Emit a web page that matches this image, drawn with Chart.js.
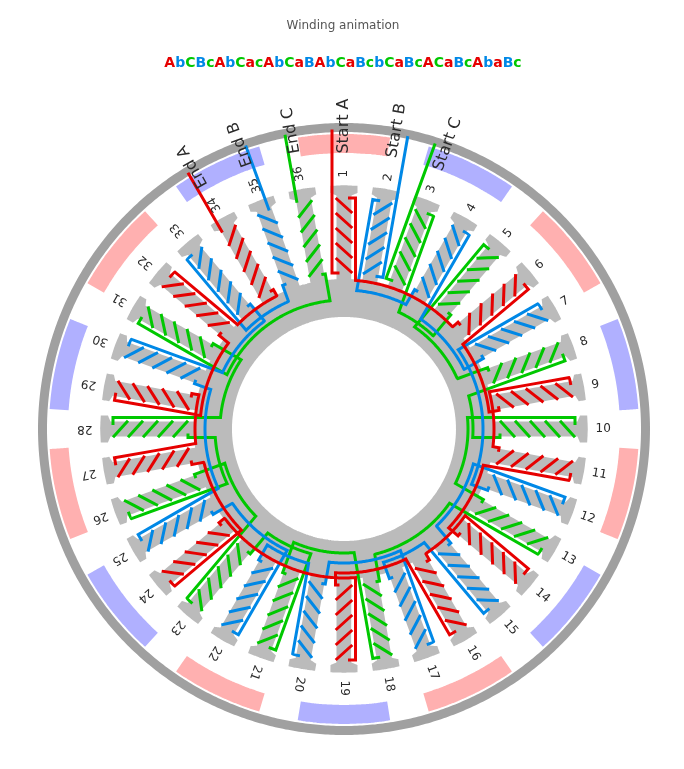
<!DOCTYPE html>
<html><head><meta charset="utf-8">
<style>html,body{margin:0;padding:0;background:#fff;overflow:hidden;width:684px;height:769px}canvas{display:block}</style>
<script src="https://cdn.jsdelivr.net/npm/chart.js@4"></script>
</head><body><canvas id="c" width="686" height="769" style="width:686px;height:769px"></canvas>
<script>
const titleText = 'Winding animation';
const windingOrder = 'AbCBcAbCacAbCaBAbCaBcbCaBcACaBcAbaBc';
const toothLabels = ['1','2','3','4','5','6','7','8','9','10','11','12','13','14','15','16','17','18','19','20','21','22','23','24','25','26','27','28','29','30','31','32','33','34','35','36'];
const leadLabels = ['Start A','Start B','Start C','End A','End B','End C'];
const leadTeeth = [1,2,3,34,35,36];
const poleAngles = [0,25.7,51.4,77.1,102.9,128.6,154.3,180,205.7,231.4,257.1,282.9,308.6,334.3];
const poleKinds = ['N','S','N','S','N','S','N','S','N','S','N','S','N','S'];
const redArcs = [149,146,150,144,149,144,149,144,149,144,149];
const blueArcs = [139,134,139,134,139,134,139,134,139,134,139];
const greenArcs = [129,124,129,124,129,124,129,124,129,124,129];
const stripeRadii = [156,171,186,201,216];
const endOffsets = {A:7,B:4.5,C:7};

const COL = {A:'#e60000',B:'#0088e6',C:'#00c800',N:'#ffb0b0',S:'#b0b0ff',steel:'#bbbbbb',rim:'#a0a0a0'};
const CX=344, CY=429, W=686, H=769, TOP=71.4;
const rad=d=>d*Math.PI/180;
const toothAngle=t=>(t-1)*10;
const pt=(th,u,v)=>({x:u*Math.sin(rad(th))+v*Math.cos(rad(th)),y:u*Math.cos(rad(th))-v*Math.sin(rad(th))});
const gap={x:NaN,y:NaN};
function arc(r,a,b,step=1){const o=[];const n=Math.max(1,Math.ceil(Math.abs(b-a)/step));for(let i=0;i<=n;i++){o.push(pt(a+(b-a)*i/n,r,0));}return o;}

function phasePath(ph,arcs){
  const teeth=[];
  [...windingOrder].forEach((ch,i)=>{if(ch.toUpperCase()===ph)teeth.push({t:i+1,s:ch===ph?1:-1});});
  const d=[];
  teeth.forEach((c,k)=>{
    const th=toothAngle(c.t),s=c.s;
    stripeRadii.forEach(r=>{d.push(pt(th,r+15,-8.3*s),pt(th,r,8.3*s),gap);});
    if(k===0){d.push(pt(th,299.5,-12*s),pt(th,156,-12*s),pt(th,156,-4.5*s),gap);}
    if(k===teeth.length-1){const e=endOffsets[ph];d.push(pt(th,300,e*s),pt(th,231,e*s),gap);}
    else{
      const n=teeth[k+1],R=arcs[k],tn=toothAngle(n.t),vl=11.5*s,vs=-8.5*n.s;
      d.push(pt(th,231,4*s),pt(th,231,vl),pt(th,Math.sqrt(R*R-vl*vl),vl));
      const a=th+Math.asin(vl/R)*180/Math.PI,b=tn+Math.asin(vs/R)*180/Math.PI;
      d.push(...arc(R,a,b));
      d.push(pt(tn,156,vs),pt(tn,156,-4.5*n.s),gap);
    }
  });
  return d;
}
function statorOutline(){
  const o=[];
  for(let t=1;t<=36;t++){const th=toothAngle(t);
    const a0=Math.asin(7.5/150)*180/Math.PI;
    o.push(pt(th,150,-7.5),pt(th,233.5,-7.5),pt(th,236,-13.5),pt(th,243.2,-13.5));
    o.push(pt(th,243.6,-6),pt(th,243.8,0),pt(th,243.6,6));
    o.push(pt(th,243.2,13.5),pt(th,236,13.5),pt(th,233.5,7.5),pt(th,150,7.5));
    o.push(...arc(150,th+a0,th+10-a0,2));
  }
  return o;
}
function poleShape(a){const h=9;return [...arc(295,a-h,a+h),...arc(276,a+h,a-h)];}
const base={showLine:true,pointRadius:0,pointHoverRadius:0,tension:0.0001};
const line=(data,color,w=3)=>({...base,data,borderColor:color,borderWidth:w,fill:false,borderJoinStyle:'miter',borderCapStyle:'butt'});
const solid=(data,color)=>({...base,data,backgroundColor:color,borderColor:color,borderWidth:0,fill:'shape'});
const datasets=[
  line(phasePath('A',redArcs),COL.A),
  line(phasePath('B',blueArcs),COL.B),
  line(phasePath('C',greenArcs),COL.C),
  solid(arc(112,0,360,2),'#ffffff'),
  solid(statorOutline(),COL.steel),
  ...poleAngles.map((a,i)=>solid(poleShape(a),COL[poleKinds[i]])),
  line(arc(301.5,0,360,1),COL.rim,9)
];

const FF='"DejaVu Sans", Verdana, sans-serif';
const cv=document.getElementById('c');
const g=cv.getContext('2d');
g.font='bold 14px '+FF;
const full=g.measureText(windingOrder).width;
const x0=-full/2;
const grad=g.createLinearGradient(x0,0,x0+full,0);
[...windingOrder].forEach((ch,i)=>{
  const a=g.measureText(windingOrder.slice(0,i)).width/full,b=g.measureText(windingOrder.slice(0,i+1)).width/full,c=COL[ch.toUpperCase()];
  grad.addColorStop(Math.min(1,Math.max(0,a)),c);grad.addColorStop(Math.min(1,Math.max(0,b)),c);
});
const labelPlugin={id:'labels',afterDatasetsDraw(ch){
  const c=ch.ctx,xs=ch.scales.x,ys=ch.scales.y;
  const put=(txt,th,r,font,col,al)=>{const p=pt(th,r,0);c.save();c.translate(xs.getPixelForValue(p.x),ys.getPixelForValue(p.y));c.rotate(rad(th-90));c.font=font;c.fillStyle=col;c.textAlign=al;c.textBaseline='middle';c.fillText(txt,0,0);c.restore();};
  toothLabels.forEach((l,i)=>put(l,toothAngle(i+1),251.5,'12px '+FF,'#2a2a2a','left'));
  leadLabels.forEach((l,i)=>put(l,toothAngle(leadTeeth[i]),303,'16px '+FF,'#2a2a2a','center'));
}};
new Chart(cv,{type:'scatter',data:{datasets},plugins:[labelPlugin],options:{
  responsive:false,animation:false,events:[],
  layout:{padding:0},
  plugins:{legend:{display:false},tooltip:{enabled:false},
    title:{display:true,text:titleText,color:'#555',font:{family:FF,size:12,weight:'normal',lineHeight:1.2},padding:{top:18.8,bottom:10}},
    subtitle:{display:true,text:windingOrder,color:grad,font:{family:FF,size:14,weight:'bold',lineHeight:1.2},padding:{top:11.4,bottom:0}}},
  scales:{x:{type:'linear',display:false,min:-CX,max:W-CX},y:{type:'linear',display:false,min:CY-H,max:CY-TOP}}
}});
</script></body></html>
